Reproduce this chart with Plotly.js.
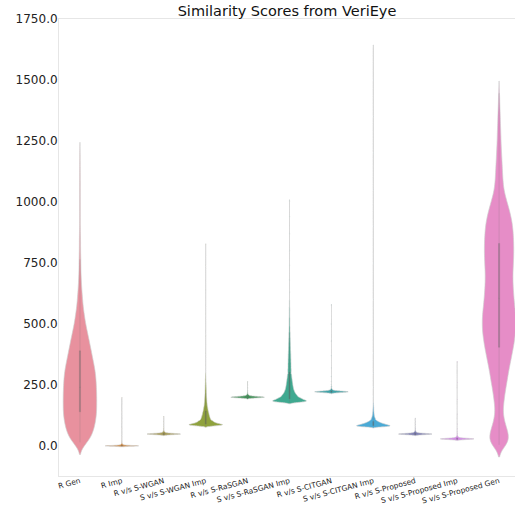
<!DOCTYPE html>
<html>
<head>
<meta charset="utf-8">
<script src="https://cdn.plot.ly/plotly-3.0.1.min.js"></script>
<style>html,body{margin:0;padding:0;background:#fff;}#chart{width:515px;height:517px;}</style>
</head>
<body>
<div id="chart"></div>
<script>
// Category labels (x axis)
const categories = ["R Gen", "R Imp", "R v/s S-WGAN", "S v/s S-WGAN Imp", "R v/s S-RaSGAN",
  "S v/s S-RaSGAN Imp", "R v/s S-CITGAN", "S v/s S-CITGAN Imp", "R v/s S-Proposed",
  "S v/s S-Proposed Imp", "S v/s S-Proposed Gen"];

// Score histograms: score values and how many samples have each
const rGenScores = [15, 40, 65, 90, 115, 140, 165, 190, 215, 240, 265, 290, 315, 340, 365, 390,
  415, 440, 465, 490, 515, 540, 565, 590, 615, 640, 665, 690, 715, 740, 765, 790, 815, 840,
  865, 890, 915, 940, 965, 990, 1015, 1040, 1065, 1090, 1120, 1150, 1195];
const rGenCounts = [28, 38, 45, 50, 53, 55, 55, 55, 55, 54, 53, 52, 49, 45, 41, 37,
  33, 29, 25, 20, 17, 14, 11, 9, 8, 6, 5, 4, 3, 3, 3, 2, 2, 2,
  2, 1, 1, 1, 1, 1, 1, 1, 1, 1, 1, 1, 1];

const rImpScores = [0, 1, 2, 3, 4, 6, 8, 10, 13, 17, 22, 28, 36, 50, 70, 100, 140, 197];
const rImpCounts = [200, 60, 30, 18, 12, 8, 6, 4, 3, 2, 2, 1, 1, 1, 1, 1, 1, 1];

const rWganScores = [45, 46, 47, 48, 49, 50, 51, 52, 53, 55, 57, 60, 64, 70, 78, 88, 100, 119];
const rWganCounts = [4, 10, 20, 30, 34, 30, 20, 12, 8, 6, 4, 3, 2, 2, 1, 1, 1, 1];

const sWganImpScores = [82, 84, 86, 88, 90, 92, 94, 96, 98, 100,
  103, 108, 113, 118, 123, 128, 133, 138, 143, 148, 153, 158, 163, 168, 173, 178, 183, 188,
  193, 198, 203, 208, 213, 218, 223, 228, 233, 238, 243, 248, 253, 258, 263, 268, 273, 278,
  283, 288, 293, 298, 330, 380, 450, 540, 640, 740, 824];
const sWganImpCounts = [36, 72, 96, 85, 70, 60, 52, 45, 40, 36,
  73, 61, 54, 50, 46, 41, 38, 35, 31, 28, 25, 23, 20, 18, 17, 15, 14, 13,
  12, 11, 10, 9, 9, 8, 8, 8, 7, 7, 6, 6, 5, 5, 4, 4, 4, 3,
  3, 3, 2, 2, 1, 1, 1, 1, 1, 1, 1];

const rRasganScores = [195, 196, 197, 198, 199, 200, 201, 202, 203, 204, 205, 207, 209, 212,
  216, 221, 228, 238, 250, 262];
const rRasganCounts = [3, 8, 15, 24, 30, 34, 30, 24, 16, 11, 8, 6, 4, 3, 2, 2, 1, 1, 1, 1];

const sRasganImpScores = [179, 182, 185, 188, 191, 194, 197, 200,
  204, 208, 212, 216, 220, 224, 228, 232, 236, 240, 244, 248, 252, 256, 260, 264, 268, 272,
  276, 280, 284, 288, 292, 296,
  302, 308, 314, 320, 326, 332, 338, 344, 350, 356, 362, 368, 374, 380, 386, 392, 398, 404,
  410, 416, 422, 428, 434, 440, 446, 452, 458, 464, 470, 476, 482, 488, 494, 500, 506, 512,
  518, 524, 530, 536, 542, 548, 554, 560, 566, 572, 578, 584, 590, 596,
  630, 680, 740, 800, 870, 940, 1004];
const sRasganImpCounts = [45, 74, 70, 61, 54, 49, 44, 41,
  44, 39, 35, 31, 28, 26, 24, 22, 21, 20, 19, 18, 17, 17, 16, 15, 14, 14,
  13, 12, 12, 11, 11, 10,
  13, 13, 13, 12, 12, 12, 12, 11, 11, 11, 10, 10, 10, 9, 9, 8, 8, 8,
  7, 7, 7, 6, 6, 6, 5, 5, 5, 5, 4, 4, 4, 4, 3, 3, 3, 3,
  3, 3, 2, 2, 2, 2, 2, 2, 2, 1, 1, 1, 1, 1,
  1, 1, 1, 1, 1, 1, 1];

const rCitganScores = [217, 218, 219, 220, 221, 222, 223, 224, 225, 226, 227, 229, 231, 234,
  238, 244, 252, 265, 285, 320, 370, 430, 500, 578];
const rCitganCounts = [3, 8, 15, 24, 30, 34, 30, 24, 16, 11, 8, 6, 4, 3, 2, 2, 1, 1, 1, 1, 1, 1, 1, 1];

const sCitganImpScores = [78, 80, 82, 84, 86, 88, 90, 92, 94, 96, 98, 100, 102, 104, 106, 108, 110,
  113, 117, 121, 125, 129, 133, 137, 141, 145, 149, 153, 157, 161, 165, 169, 173, 177,
  200, 240, 300, 380, 480, 600, 750, 900, 1050, 1200, 1350, 1500, 1640];
const sCitganImpCounts = [36, 84, 99, 90, 80, 70, 60, 52, 45, 38, 32, 27, 22, 18, 15, 13, 11,
  20, 16, 13, 11, 9, 8, 7, 6, 5, 5, 4, 4, 3, 3, 2, 2, 2,
  1, 1, 1, 1, 1, 1, 1, 1, 1, 1, 1, 1, 1];

const rProposedScores = [45, 46, 47, 48, 49, 50, 51, 52, 53, 55, 57, 60, 64, 70, 78, 88, 100, 112];
const rProposedCounts = [4, 10, 20, 30, 34, 30, 20, 12, 8, 6, 4, 3, 2, 2, 1, 1, 1, 1];

const sProposedImpScores = [25, 26, 27, 28, 29, 30, 31, 32, 33, 35, 37, 40, 44, 50, 58, 70, 90,
  130, 190, 260, 344];
const sProposedImpCounts = [4, 10, 20, 30, 34, 30, 20, 12, 8, 6, 4, 3, 2, 2, 1, 1, 1, 1, 1, 1, 1];

const sProposedGenScores = [5, 30, 55, 80, 105, 130, 155, 180, 205, 230, 255, 280, 305, 330,
  355, 380, 405, 430, 455, 480, 505, 530, 555, 580, 605, 630, 655, 680, 705, 730, 755, 780,
  805, 830, 855, 880, 905, 930, 955, 980, 1005, 1030, 1055, 1080, 1105, 1130, 1155, 1180,
  1205, 1230, 1255, 1280, 1305, 1330, 1355, 1380, 1405, 1430, 1446];
const sProposedGenCounts = [30, 35, 30, 23, 17, 13, 13, 16, 18, 21, 25, 28, 31, 35,
  39, 43, 47, 50, 53, 55, 55, 55, 53, 50, 49, 47, 46, 45, 45, 46, 47, 48,
  48, 48, 47, 46, 44, 41, 36, 31, 25, 19, 15, 13, 12, 11, 10, 9,
  8, 7, 6, 6, 5, 4, 4, 3, 2, 2, 1];

const scoreLists = [rGenScores, rImpScores, rWganScores, sWganImpScores, rRasganScores,
  sRasganImpScores, rCitganScores, sCitganImpScores, rProposedScores, sProposedImpScores,
  sProposedGenScores];
const countLists = [rGenCounts, rImpCounts, rWganCounts, sWganImpCounts, rRasganCounts,
  sRasganImpCounts, rCitganCounts, sCitganImpCounts, rProposedCounts, sProposedImpCounts,
  sProposedGenCounts];

// Style (not data)
const colors = ["#e8919e", "#cf8c47", "#a69b56", "#8fa23d", "#43935a", "#3fa990",
  "#3ea3a8", "#4aaad6", "#7e7fb3", "#d48ae6", "#e68dc7"];
const bandwidths = [25, 1.5, 1.5, 2.5, 1.5, 3, 1.5, 2, 1.5, 1.5, 25];

const yTicks = [0, 250, 500, 750, 1000, 1250, 1500, 1750];

// expand a histogram (score, count) into the list of samples it describes
function expand(scores, counts) {
  const out = [];
  scores.forEach((s, i) => { for (let k = 0; k < counts[i]; k++) out.push(s); });
  return out;
}

const traces = scoreLists.map((sc, i) => ({
  type: "violin",
  x0: categories[i],
  y: expand(sc, countLists[i]),
  name: categories[i],
  bandwidth: bandwidths[i],
  width: 0.8,
  spanmode: "soft",
  scalemode: "width",
  fillcolor: colors[i],
  opacity: 1,
  line: {color: "rgba(205,205,205,0.9)", width: 0.7},
  points: false,
  box: {visible: true, width: 0.035, fillcolor: "rgba(85,85,85,0.45)",
        line: {color: "rgba(110,110,110,0.35)", width: 0.6}},
  meanline: {visible: false},
  hoverinfo: "skip",
  showlegend: false
}));

const layout = {
  width: 515, height: 517,
  margin: {l: 59, r: 0, t: 19, b: 41, pad: 0},
  paper_bgcolor: "#fff", plot_bgcolor: "#fff",
  font: {family: "DejaVu Sans, sans-serif", color: "#222"},
  title: {text: "Similarity Scores from VeriEye", font: {size: 14.5, color: "#111"},
          xref: "paper", x: 0.5, xanchor: "center", yref: "container", y: 0.979, yanchor: "middle"},
  showlegend: false,
  violinmode: "overlay",
  xaxis: {type: "category", categoryorder: "array", categoryarray: categories,
          range: [-0.5, 10.38], showgrid: false, zeroline: false,
          showline: true, mirror: true, linecolor: "#e6e6e6", linewidth: 1,
          ticks: "", tickangle: -15, ticklabelstandoff: -3, tickfont: {size: 7.5, color: "#222"}},
  yaxis: {range: [-123, 1750], tickvals: yTicks, tickformat: ".1f",
          showgrid: false, zeroline: false, showline: true, mirror: false,
          linecolor: "#e6e6e6", linewidth: 1, ticks: "", ticklabelstandoff: -2,
          tickfont: {size: 12, color: "#222"}}
};

Plotly.newPlot("chart", traces, layout, {displayModeBar: false, staticPlot: true});
</script>
</body>
</html>
